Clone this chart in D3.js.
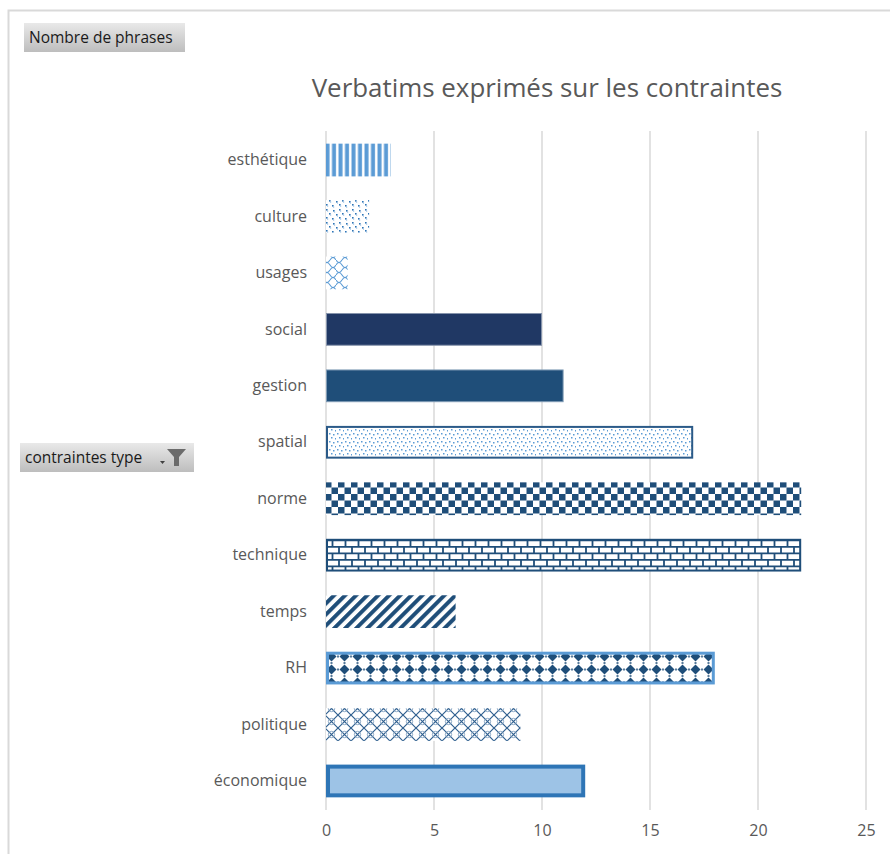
<!DOCTYPE html>
<html>
<head>
<meta charset="utf-8">
<script src="https://cdn.jsdelivr.net/npm/d3@7"></script>
<style>
  body { margin: 0; background: #fff; }
  svg { display: block; font-family: "Open Sans", sans-serif; }
</style>
</head>
<body>
<script>
// data
const categories = ['esthétique', 'culture', 'usages', 'social', 'gestion', 'spatial',
  'norme', 'technique', 'temps', 'RH', 'politique', 'économique'];
const values = [3, 2, 1, 10, 11, 17, 22, 22, 6, 18, 9, 12];
const xTicks = [0, 5, 10, 15, 20, 25];
const title = 'Verbatims exprimés sur les contraintes';

const width = 890, height = 854;

const svg = d3.select('body').append('svg')
  .attr('width', width)
  .attr('height', height);

const defs = svg.append('defs');

// gradient for the pivot buttons
const grad = defs.append('linearGradient').attr('id', 'btn').attr('x1', 0).attr('y1', 0).attr('x2', 0).attr('y2', 1);
grad.append('stop').attr('offset', '0%').attr('stop-color', '#e9e9e9');
grad.append('stop').attr('offset', '100%').attr('stop-color', '#bdbdbd');

function pattern(id, w, h, transform) {
  const p = defs.append('pattern').attr('id', id)
    .attr('patternUnits', 'userSpaceOnUse')
    .attr('width', w).attr('height', h);
  if (transform) p.attr('patternTransform', transform);
  p.append('rect').attr('width', w).attr('height', h).attr('fill', '#fff');
  return p;
}

// esthétique : vertical stripes
pattern('pVert', 6.5, 10).append('rect').attr('x', 0.5).attr('width', 4).attr('height', 10).attr('fill', '#5b9bd5');

// culture : sparse little marks
let p = pattern('pCult', 13, 13);
[[1, 1], [8, 2], [4, 5], [11, 6], [1, 9], [7, 10]].forEach(d => {
  p.append('rect').attr('x', d[0]).attr('y', d[1]).attr('width', 1.6).attr('height', 1.6).attr('fill', '#2e75b6');
});
[[2, 2.5], [9, 3.5], [5, 6.5], [12, 7.5], [2, 10.5], [8, 11.5]].forEach(d => {
  p.append('rect').attr('x', d[0]).attr('y', d[1]).attr('width', 1.2).attr('height', 1.2).attr('fill', '#9dc3e6');
});

// usages : waves / scales
p = pattern('pWave', 12, 10);
p.append('path').attr('d', 'M0,5 Q3,0 6,5 Q9,10 12,5 M0,0 Q3,5 6,0 M6,10 Q9,5 12,10')
  .attr('fill', 'none').attr('stroke', '#5b9bd5').attr('stroke-width', 1.1);

// spatial : small dots
p = pattern('pDots', 8, 8);
[[1, 1], [5, 2], [3, 5], [7, 6]].forEach(d => {
  p.append('rect').attr('x', d[0]).attr('y', d[1]).attr('width', 1.5).attr('height', 1.5).attr('fill', '#5b9bd5');
});

// norme : checkerboard
p = pattern('pCheck', 13, 13);
p.append('rect').attr('width', 6.5).attr('height', 6.5).attr('fill', '#1f4e79');
p.append('rect').attr('x', 6.5).attr('y', 6.5).attr('width', 6.5).attr('height', 6.5).attr('fill', '#1f4e79');

// technique : horizontal bricks
p = pattern('pBrick', 13, 13);
p.append('path').attr('d', 'M0,0.8 H13 M0,7.3 H13 M1,0 V6.5 M7.5,6.5 V13')
  .attr('fill', 'none').attr('stroke', '#1f4e79').attr('stroke-width', 1.8);

// temps : wide upward diagonal
pattern('pDiag', 7.8, 10, 'rotate(45)').append('rect').attr('width', 4).attr('height', 10).attr('fill', '#1f4e79');

// RH : solid diamonds
p = pattern('pDiam', 13, 13);
p.append('path').attr('d', 'M6.5,1.5 L11.5,6.5 L6.5,11.5 L1.5,6.5 Z').attr('fill', '#1f4e79');
p.append('path').attr('d', 'M0,5.5 V7.5 M13,5.5 V7.5 M5.5,0 H7.5 M5.5,13 H7.5')
  .attr('stroke', '#1f4e79').attr('stroke-width', 1.5);

// politique : trellis
p = pattern('pTrel', 13, 13);
p.append('path').attr('d', 'M0,0 L13,13 M13,0 L0,13')
  .attr('fill', 'none').attr('stroke', '#2f5f8f').attr('stroke-width', 1.2);
p.append('circle').attr('cx', 6.5).attr('cy', 6.5).attr('r', 3.2)
  .attr('fill', 'none').attr('stroke', '#7f9fbf').attr('stroke-width', 0.9);

const styles = {
  'esthétique': { fill: 'url(#pVert)', stroke: 'none', sw: 0 },
  'culture': { fill: 'url(#pCult)', stroke: 'none', sw: 0 },
  'usages': { fill: 'url(#pWave)', stroke: 'none', sw: 0 },
  'social': { fill: '#203864', stroke: '#8593ab', sw: 1 },
  'gestion': { fill: '#1f4e79', stroke: '#7f9bb5', sw: 1 },
  'spatial': { fill: 'url(#pDots)', stroke: '#2b5a88', sw: 2 },
  'norme': { fill: 'url(#pCheck)', stroke: 'none', sw: 0 },
  'technique': { fill: 'url(#pBrick)', stroke: '#1f4e79', sw: 2 },
  'temps': { fill: 'url(#pDiag)', stroke: 'none', sw: 0 },
  'RH': { fill: 'url(#pDiam)', stroke: '#5b9bd5', sw: 3 },
  'politique': { fill: 'url(#pTrel)', stroke: 'none', sw: 0 },
  'économique': { fill: '#9dc3e6', stroke: '#2e75b6', sw: 4 }
};

// outer frame
svg.append('path').attr('d', 'M8.5,' + height + ' V10.5 H' + width)
  .attr('fill', 'none').attr('stroke', '#d9d9d9').attr('stroke-width', 2);

// scales
const x = d3.scaleLinear().domain([0, 25]).range([326, 866]);
const y = d3.scaleBand().domain(categories).range([131.8, 809.2])
  .paddingInner(0.42).paddingOuter(0.21);

// gridlines
svg.append('g').selectAll('line').data(xTicks).join('line')
  .attr('x1', d => x(d)).attr('x2', d => x(d))
  .attr('y1', 131).attr('y2', 810)
  .attr('stroke', '#d9d9d9').attr('stroke-width', 1.5);

// x axis labels
const xAxis = svg.append('g')
  .attr('transform', 'translate(0,810)')
  .call(d3.axisBottom(x).tickValues(xTicks).tickSize(0).tickPadding(15));
xAxis.select('.domain').remove();
xAxis.selectAll('text').attr('fill', '#595959').style('font-size', '16px')
  .style('font-family', '"Open Sans", sans-serif');

// y axis labels
const yAxis = svg.append('g')
  .attr('transform', 'translate(326,0)')
  .call(d3.axisLeft(y).tickSize(0).tickPadding(19));
yAxis.select('.domain').remove();
yAxis.selectAll('text').attr('fill', '#595959').style('font-size', '16px')
  .style('font-family', '"Open Sans", sans-serif');

// bars
svg.append('g').selectAll('rect')
  .data(categories.map((c, i) => ({ c, v: values[i] })))
  .join('rect')
  .attr('x', d => x(0) + styles[d.c].sw / 2)
  .attr('y', d => y(d.c) + styles[d.c].sw / 2)
  .attr('width', d => x(d.v) - x(0) - styles[d.c].sw)
  .attr('height', d => y.bandwidth() - styles[d.c].sw)
  .attr('fill', d => styles[d.c].fill)
  .attr('stroke', d => styles[d.c].stroke)
  .attr('stroke-width', d => styles[d.c].sw);

// title
const t = svg.append('text')
  .attr('x', 547).attr('y', 97)
  .attr('text-anchor', 'middle')
  .attr('fill', '#595959')
  .style('font-size', '24px')
  .text(title);
const tw = t.node().getComputedTextLength();
t.style('font-size', (24 * 471 / tw).toFixed(2) + 'px');

// pivot field buttons
function button(x0, y0, w, h, label) {
  const g = svg.append('g');
  g.append('rect').attr('x', x0).attr('y', y0).attr('width', w).attr('height', h)
    .attr('fill', 'url(#btn)');
  g.append('text').attr('x', x0 + 5).attr('y', y0 + h / 2 + 5.5)
    .attr('fill', '#1a1a1a').style('font-size', '15.5px').text(label);
  return g;
}
button(24, 23, 161, 29, 'Nombre de phrases');
const fb = button(20, 443, 174, 29, 'contraintes type');

// filter icon
fb.append('path').attr('d', 'M167,449 H186 L179,457 V466 H174 V457 Z').attr('fill', '#6b6b6b');
fb.append('path').attr('d', 'M160,461 H165 L162.5,464 Z').attr('fill', '#404040');
</script>
</body>
</html>
